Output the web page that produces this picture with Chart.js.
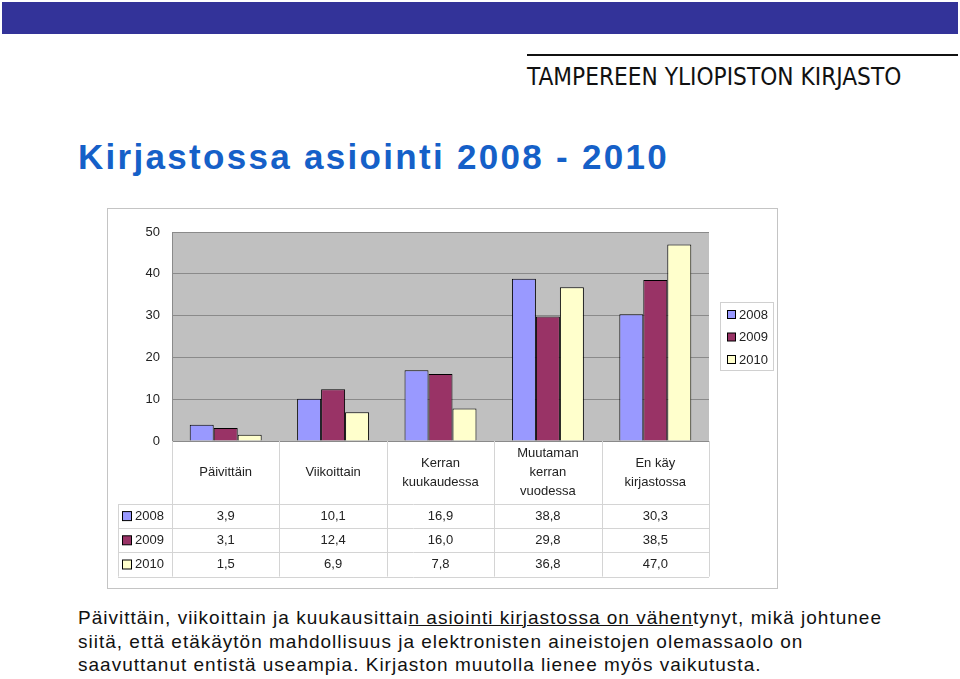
<!DOCTYPE html>
<html>
<head>
<meta charset="utf-8">
<script src="https://cdn.jsdelivr.net/npm/chart.js@4"></script>
<style>
  body { margin: 0; width: 960px; height: 679px; background: #fff; position: relative; overflow: hidden; font-family: Arial, 'Liberation Sans', sans-serif; }
  .banner { position: absolute; left: 2px; top: 2px; width: 956px; height: 32px; background: #333399; }
  .rule { position: absolute; left: 527px; top: 54px; width: 431px; height: 2px; background: #111; }
  .brand { position: absolute; left: 527px; top: 62px; font-family: 'Liberation Sans Narrow', 'DejaVu Sans Condensed', sans-serif; font-size: 25px; color: #111; transform: scaleX(0.967); transform-origin: 0 0; white-space: nowrap; }
  h1 { position: absolute; left: 78px; top: 137px; margin: 0; font-size: 35px; font-weight: bold; color: #1560c8; letter-spacing: 2.3px; white-space: nowrap; }
  .frame { position: absolute; left: 107px; top: 208px; width: 669px; height: 379px; border: 1px solid #c4c4c4; }
  .note { position: absolute; left: 78px; top: 606px; font-size: 19px; line-height: 23.5px; letter-spacing: 1px; color: #111; white-space: nowrap; }
  .note u { text-decoration-thickness: 1px; }
</style>
</head>
<body>
<div class="banner"></div>
<div class="rule"></div>
<div class="brand">TAMPEREEN YLIOPISTON KIRJASTO</div>
<h1>Kirjastossa asiointi 2008 - 2010</h1>
<div class="frame"><canvas id="chart" width="669" height="379"></canvas></div>
<div class="note">Päivittäin, viikoittain ja kuukausittai<u>n asiointi kirjastossa on vähen</u>tynyt, mikä johtunee<br>siitä, että etäkäytön mahdollisuus ja elektronisten aineistojen olemassaolo on<br>saavuttanut entistä useampia. Kirjaston muutolla lienee myös vaikutusta.</div>

<script>
const categories = [
  ['Päivittäin'],
  ['Viikoittain'],
  ['Kerran', 'kuukaudessa'],
  ['Muutaman', 'kerran', 'vuodessa'],
  ['En käy', 'kirjastossa']
];
const years = ['2008', '2009', '2010'];
const values2008 = [3.9, 10.1, 16.9, 38.8, 30.3];
const values2009 = [3.1, 12.4, 16.0, 29.8, 38.5];
const values2010 = [1.5, 6.9, 7.8, 36.8, 47.0];
const yTicks = [0, 10, 20, 30, 40, 50];
const colors = ['#9999ff', '#993366', '#ffffcc'];

const fmt = v => v.toFixed(1).replace('.', ',');
const font = '13px Arial, "Liberation Sans", sans-serif';

// grey plot area, data table under the axis and the small legend box
const tablePlugin = {
  id: 'tablePlugin',
  beforeDraw(chart) {
    const { ctx, chartArea: a } = chart;
    ctx.save();
    ctx.fillStyle = '#c0c0c0';
    ctx.fillRect(a.left, a.top, a.right - a.left, a.bottom - a.top);
    ctx.restore();
  },
  afterDraw(chart) {
    const { ctx, chartArea: a, scales } = chart;
    const x = scales.x;
    const half = (a.right - a.left) / categories.length / 2;
    const headBottom = a.bottom + 63;
    const rowH = 24.2;
    const tableLeft = 10;
    const tableBottom = headBottom + rowH * 3;

    ctx.save();
    ctx.strokeStyle = '#d4d4d4';
    ctx.lineWidth = 1;
    // vertical lines
    for (let i = 0; i <= categories.length; i++) {
      const px = Math.round(i < categories.length ? x.getPixelForValue(i) - half : x.getPixelForValue(i - 1) + half) + 0.5;
      ctx.beginPath();
      ctx.moveTo(px, a.bottom);
      ctx.lineTo(px, tableBottom);
      ctx.stroke();
    }
    ctx.beginPath();
    ctx.moveTo(tableLeft + 0.5, headBottom);
    ctx.lineTo(tableLeft + 0.5, tableBottom);
    ctx.stroke();
    // horizontal lines
    for (let r = 0; r <= 3; r++) {
      const py = Math.round(headBottom + r * rowH) + 0.5;
      ctx.beginPath();
      ctx.moveTo(tableLeft, py);
      ctx.lineTo(a.right, py);
      ctx.stroke();
    }

    ctx.font = font;
    ctx.fillStyle = '#222';
    ctx.textAlign = 'center';
    ctx.textBaseline = 'middle';
    // category header
    const headMid = (a.bottom + headBottom) / 2;
    categories.forEach((lines, i) => {
      const cx = x.getPixelForValue(i);
      lines.forEach((t, k) => {
        ctx.fillText(t, cx, headMid + (k - (lines.length - 1) / 2) * 19);
      });
    });
    // data rows
    chart.data.datasets.forEach((ds, r) => {
      const cy = headBottom + rowH * r + rowH / 2;
      ctx.fillStyle = ds.backgroundColor;
      ctx.fillRect(tableLeft + 4.5, cy - 4.5, 9, 9);
      ctx.strokeStyle = '#000';
      ctx.strokeRect(tableLeft + 4.5, cy - 4.5, 9, 9);
      ctx.fillStyle = '#222';
      ctx.textAlign = 'left';
      ctx.fillText(ds.label, tableLeft + 17, cy);
      ctx.textAlign = 'center';
      ds.data.forEach((v, i) => ctx.fillText(fmt(v), x.getPixelForValue(i), cy));
    });

    // legend box
    const lx = a.right + 11, ly = 93, lw = 53, lh = 68;
    ctx.strokeStyle = '#d0d0d0';
    ctx.strokeRect(lx + 0.5, ly + 0.5, lw, lh);
    chart.data.datasets.forEach((ds, r) => {
      const cy = ly + 12 + r * 22.5;
      ctx.fillStyle = ds.backgroundColor;
      ctx.fillRect(lx + 7.5, cy - 3.5, 8, 8);
      ctx.strokeStyle = '#000';
      ctx.strokeRect(lx + 7.5, cy - 3.5, 8, 8);
      ctx.fillStyle = '#222';
      ctx.textAlign = 'left';
      ctx.fillText(ds.label, lx + 19, cy + 1);
    });
    ctx.restore();
  }
};

new Chart(document.getElementById('chart'), {
  type: 'bar',
  data: {
    labels: categories.map(c => c.join(' ')),
    datasets: [values2008, values2009, values2010].map((d, i) => ({
      label: years[i],
      data: d,
      backgroundColor: colors[i],
      borderColor: '#000',
      borderWidth: 1,
      categoryPercentage: 0.67,
      barPercentage: 1.0
    }))
  },
  options: {
    responsive: false,
    animation: false,
    layout: { padding: { left: 0, right: 68, top: 23, bottom: 147 } },
    scales: {
      x: {
        display: false
      },
      y: {
        min: 0,
        max: 50,
        afterFit(scale) { scale.width = 64; },
        afterBuildTicks(scale) { scale.ticks = yTicks.map(v => ({ value: v })); },
        border: { color: '#8a8a8a' },
        grid: { color: '#8a8a8a', drawTicks: false },
        ticks: { padding: 12, color: '#222', font: { family: 'Arial, "Liberation Sans", sans-serif', size: 13 } }
      }
    },
    plugins: {
      legend: { display: false },
      tooltip: { enabled: false }
    }
  },
  plugins: [tablePlugin]
});
</script>
</body>
</html>
